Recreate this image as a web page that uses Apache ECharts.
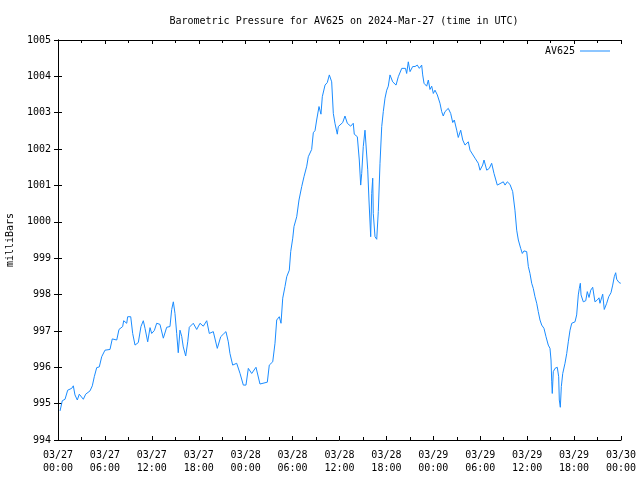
<!DOCTYPE html>
<html>
<head>
<meta charset="utf-8">
<script src="https://cdn.jsdelivr.net/npm/echarts@6/dist/echarts.min.js"></script>
<style>html,body{margin:0;padding:0;background:#fff}#c{width:640px;height:480px}</style>
</head>
<body>
<div id="c"></div>
<script>
// hours since 2024-03-27 00:00 UTC
const hours = [0.26,0.55,0.90,1.24,1.75,1.96,2.17,2.47,2.72,3.24,3.54,4.09,4.39,4.64,4.95,5.28,5.59,6.01,6.65,6.94,7.51,7.80,8.27,8.40,8.79,8.91,9.30,9.55,9.85,10.27,10.61,10.91,11.13,11.47,11.77,11.98,12.32,12.62,13.04,13.47,13.90,14.32,14.54,14.75,14.96,15.18,15.38,15.60,15.82,16.02,16.33,16.59,16.79,17.30,17.74,18.16,18.58,19.02,19.35,19.86,20.37,20.81,21.14,21.48,21.78,21.99,22.34,22.85,23.28,23.70,24.04,24.34,24.77,25.32,25.83,26.77,27.02,27.46,27.75,27.97,28.30,28.52,28.74,29.03,29.25,29.58,29.76,30.02,30.18,30.53,30.82,31.17,31.46,31.81,32.01,32.44,32.65,32.87,33.08,33.38,33.63,33.80,34.15,34.44,34.70,35.00,35.21,35.42,35.72,35.85,36.41,36.70,37.00,37.43,37.76,37.89,38.28,38.53,38.71,38.84,39.04,39.26,39.48,39.61,39.77,39.99,40.12,40.25,40.32,40.54,40.76,40.96,41.18,41.40,41.60,41.82,42.04,42.24,42.46,42.80,43.23,43.52,43.96,44.44,44.59,44.80,45.02,45.36,45.66,45.95,46.21,46.51,46.64,46.81,47.15,47.36,47.57,47.79,48.00,48.21,48.51,48.85,49.07,49.27,49.49,49.91,50.22,50.48,50.68,50.99,51.19,51.50,51.76,52.05,52.47,52.69,52.91,53.33,53.75,53.97,54.31,54.48,54.83,55.16,55.46,55.76,56.18,56.53,56.95,57.17,57.46,57.80,58.15,58.44,58.66,58.87,59.17,59.38,59.59,59.94,60.15,60.36,60.58,60.78,61.00,61.22,61.42,61.64,61.86,62.15,62.41,62.70,62.92,63.05,63.14,63.21,63.34,63.56,63.85,64.03,64.11,64.24,64.37,64.55,64.84,65.06,65.26,65.48,65.70,66.12,66.33,66.54,66.67,66.80,66.89,67.18,67.49,67.69,67.91,68.13,68.38,68.67,68.97,69.19,69.31,69.66,69.86,70.17,70.43,70.72,70.94,71.14,71.32,71.45,71.75,71.97];
const pressure = [994.80,995.08,995.12,995.37,995.42,995.49,995.24,995.10,995.26,995.12,995.26,995.35,995.49,995.74,995.99,996.01,996.29,996.47,996.49,996.78,996.75,997.04,997.12,997.28,997.21,997.39,997.39,996.93,996.61,996.68,997.12,997.28,997.07,996.70,997.09,996.93,997.01,997.21,997.18,996.80,997.10,997.12,997.59,997.80,997.48,996.93,996.40,997.02,996.85,996.56,996.31,996.70,997.10,997.21,997.04,997.21,997.13,997.28,996.93,996.98,996.52,996.84,996.91,996.98,996.70,996.38,996.06,996.11,995.83,995.51,995.51,995.97,995.83,996.00,995.54,995.59,996.06,996.15,996.66,997.30,997.39,997.21,997.90,998.22,998.49,998.67,999.18,999.55,999.87,1000.14,1000.60,1000.97,1001.24,1001.53,1001.79,1001.99,1002.45,1002.51,1002.80,1003.17,1002.96,1003.44,1003.76,1003.83,1004.04,1003.85,1002.98,1002.71,1002.41,1002.62,1002.73,1002.91,1002.71,1002.63,1002.71,1002.41,1002.34,1001.70,1001.01,1001.33,1002.07,1002.52,1002.48,1001.43,1000.60,999.59,1000.78,1001.20,1000.23,999.59,999.52,1000.28,1001.61,1002.62,1003.03,1003.40,1003.62,1003.73,1004.04,1003.85,1003.76,1003.99,1004.22,1004.22,1004.08,1004.40,1004.13,1004.27,1004.27,1004.31,1004.22,1004.31,1004.04,1003.81,1003.73,1003.90,1003.64,1003.73,1003.53,1003.62,1003.49,1003.26,1003.03,1002.91,1003.03,1003.12,1002.98,1002.73,1002.80,1002.52,1002.32,1002.52,1002.25,1002.11,1002.20,1001.97,1002.02,1001.75,1001.61,1001.42,1001.56,1001.70,1001.42,1001.47,1001.61,1001.33,1001.01,1001.05,1001.10,1001.01,1001.10,1001.03,1000.83,1000.32,999.77,999.50,999.27,999.13,999.20,999.18,998.77,998.58,998.31,998.17,997.94,997.76,997.53,997.30,997.16,997.07,996.84,996.61,996.52,996.20,995.60,995.28,995.88,995.97,996.00,995.74,995.10,994.90,995.47,995.83,996.11,996.38,996.70,997.02,997.21,997.25,997.44,997.99,998.17,998.31,997.99,997.80,997.83,998.08,997.92,998.12,998.20,997.80,997.85,997.91,997.76,998.01,997.59,997.76,997.94,998.05,998.26,998.49,998.60,998.42,998.33,998.31];
const xTickLabels = ['03/27\n00:00','03/27\n06:00','03/27\n12:00','03/27\n18:00','03/28\n00:00','03/28\n06:00','03/28\n12:00','03/28\n18:00','03/29\n00:00','03/29\n06:00','03/29\n12:00','03/29\n18:00','03/30\n00:00'];
const seriesName = 'AV625';
const titleText = 'Barometric Pressure for AV625 on 2024-Mar-27 (time in UTC)';
const yAxisName = 'milliBars';

const FONT = 'DejaVu Sans Mono';
const lineColor = '#1a8cff';
const chart = echarts.init(document.getElementById('c'), null, {renderer: 'canvas'});
const axLine = {show: true, lineStyle: {color: '#000', width: 1}};
const xBase = {
  type: 'value', min: 0, max: 72, interval: 6,
  axisLine: axLine,
  axisTick: {show: true, inside: true, length: 4, lineStyle: {color: '#000'}},
  minorTick: {show: true, splitNumber: 2, length: 3, lineStyle: {color: '#000'}},
  splitLine: {show: false}
};
const yBase = {
  type: 'value', min: 994, max: 1005, interval: 1,
  axisLine: axLine,
  axisTick: {show: true, inside: true, length: 4, lineStyle: {color: '#000'}},
  splitLine: {show: false}
};
chart.setOption({
  animation: false,
  backgroundColor: '#fff',
  title: {text: titleText, left: 339, textAlign: 'center', top: 11,
    textStyle: {fontFamily: FONT, fontSize: 10, fontWeight: 'normal', color: '#000'}},
  legend: {right: 25, top: 41, align: 'right', icon: 'rect', itemWidth: 30, itemHeight: 1, itemGap: 5,
    data: [seriesName], textStyle: {fontFamily: FONT, fontSize: 10, color: '#000', padding: [0, 0, 0, 0]}},
  grid: {left: 58, right: 19, top: 40, bottom: 40, containLabel: false, outerBoundsMode: 'none'},
  xAxis: [
    Object.assign({}, xBase, {position: 'bottom',
      axisLabel: {show: true, margin: 9, lineHeight: 13, fontFamily: FONT, fontSize: 10, color: '#000',
        formatter: v => xTickLabels[Math.round(v / 6)]}}),
    Object.assign({}, xBase, {position: 'top', axisLabel: {show: false}})
  ],
  yAxis: [
    Object.assign({}, yBase, {position: 'left', name: yAxisName, nameLocation: 'middle', nameGap: 43,
      nameTextStyle: {fontFamily: FONT, fontSize: 10, color: '#000'},
      axisLabel: {show: true, margin: 7, fontFamily: FONT, fontSize: 10, color: '#000',
        formatter: v => String(v)}}),
    Object.assign({}, yBase, {position: 'right', axisLabel: {show: false}})
  ],
  series: [{
    name: seriesName, type: 'line', xAxisIndex: 0, yAxisIndex: 0,
    symbol: 'none', color: lineColor,
    lineStyle: {color: lineColor, width: 1},
    data: hours.map((h, i) => [h, pressure[i]])
  }]
});
</script>
</body>
</html>
